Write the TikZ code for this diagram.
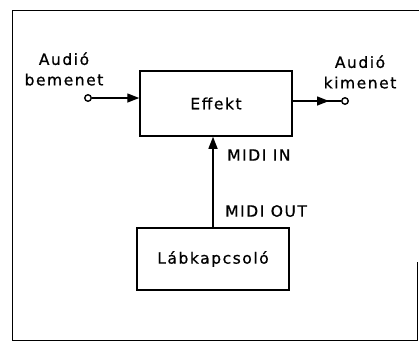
\documentclass[tikz,border=0pt]{standalone}
\usepackage{fontspec}
\setmainfont[LetterSpace=10,FakeBold=0.8]{DejaVu Sans}
\usetikzlibrary{arrows.meta}

\begin{document}
\begin{tikzpicture}[x=1pt,y=-1pt,font=\fontsize{15.5}{20.5}\selectfont,
	blokk/.style={draw,line width=1.5pt,minimum width=152pt},
	pont/.style={circle,draw,line width=1.4pt,inner sep=0pt,minimum size=6.5pt},
	nyil/.style={-{Triangle[length=12pt,width=9pt]},line width=1.4pt}]
	\useasboundingbox (0,0) rectangle (419,349);
	\draw[line width=1pt] (417,262) -- (417,340) -- (12,340) -- (12,10) -- (419,10);

            \node[blokk,minimum height=65pt] (effekt) at (216,103.5) {Effekt};
            \node[blokk,minimum height=62pt] (lab) at (213,259) {Lábkapcsoló};

            \node[pont] (be) at (88,98) {};
            \node[pont] (ki) at (345,101) {};
            \coordinate (kicsucs) at (329,101);

            \draw[nyil] (be) -- (be -| effekt.west);
            \draw[line width=1.4pt] (ki -| effekt.east) -- (ki);
            \draw[nyil] (ki -| effekt.east) -- (kicsucs);
            \draw[nyil] (lab.north) -- (lab.north |- effekt.south);

            \node[align=center,inner sep=0pt] (bel) at (64,69) {Audió\\bemenet};
            \node[align=center,inner sep=0pt] (kil) at (360,72) {Audió\\kimenet};
            \node[right,inner sep=0pt] (midiin) at (227,155) {MIDI IN};
            \node[right,inner sep=0pt] (midiout) at (225,211) {MIDI OUT};
        \end{tikzpicture}
\end{document}
